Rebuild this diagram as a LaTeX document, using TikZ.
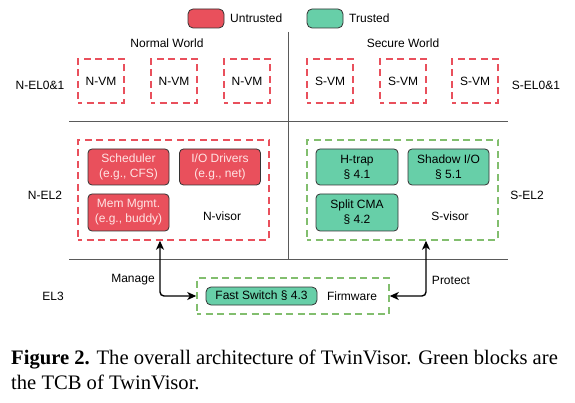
\documentclass[tikz,border=0pt]{standalone}
\usepackage{fontspec}
\setmainfont{Liberation Sans}
\newfontfamily\capfont{Liberation Serif}
\usetikzlibrary{arrows.meta}
\definecolor{untr}{RGB}{233,80,92}
\definecolor{trus}{RGB}{103,207,168}
\definecolor{gdash}{RGB}{130,190,110}
\definecolor{rtext}{RGB}{255,228,228}
\definecolor{linec}{RGB}{90,90,90}
\tikzset{
  lbl/.style={font=\fontsize{12}{15}\selectfont, inner sep=0pt, align=center},
  rdash/.style={draw=untr, dash pattern=on 7pt off 4.5pt, dash phase=3pt, line width=1.5pt, inner sep=0pt, font=\fontsize{12}{15}\selectfont},
  gdashbox/.style={draw=gdash, dash pattern=on 7pt off 4.5pt, dash phase=3pt, line width=1.5pt, inner sep=0pt},
  ubox/.style={draw=black!80, fill=untr, rounded corners=4pt, line width=0.8pt, text=rtext, align=center, inner sep=0pt, font=\fontsize{12}{15}\selectfont},
  tbox/.style={draw=black!80, fill=trus, rounded corners=4pt, line width=0.8pt, text=black, align=center, inner sep=0pt, font=\fontsize{12}{15}\selectfont},
  sepline/.style={draw=linec, line width=1pt},
  conn/.style={{Stealth[length=9pt,width=8pt,inset=2.5pt]}-{Stealth[length=9pt,width=8pt,inset=2.5pt]}, line width=1.4pt, rounded corners=4pt},
}
\begin{document}
\begin{tikzpicture}[x=1pt,y=-1pt]
\useasboundingbox (0,0) rectangle (575,403);
% legend
\node[ubox, minimum width=36pt, minimum height=19pt, rounded corners=5pt] (lu) at (206,18.5) {};
\node[lbl, anchor=west] (lut) at (230,18.5) {Untrusted};
\node[tbox, minimum width=36pt, minimum height=19pt, rounded corners=5pt] (lt) at (325,18.5) {};
\node[lbl, anchor=west] (ltt) at (349,18.5) {Trusted};
% separators
\coordinate (h1l) at (69,122);
\coordinate (h1r) at (508,122);
\coordinate (h2l) at (69,259);
\coordinate (h2r) at (508,259);
\coordinate (vt) at (288,32);
\draw[sepline] (h1l) -- (h1r);
\draw[sepline] (h2l) -- (h2r);
\draw[sepline] (vt) -- (vt |- h2l);
% world titles
\node[lbl] (nw) at (167,43) {Normal World};
\node[lbl] (sw) at (403,43) {Secure World};
% level labels
\node[lbl] (nel01) at (40,85) {N-EL0\&1};
\node[lbl] (sel01) at (536,85) {S-EL0\&1};
\node[lbl] (nel2) at (45,195) {N-EL2};
\node[lbl] (sel2) at (527,195) {S-EL2};
\node[lbl] (el3) at (53,296) {EL3};
% VMs
\node[rdash, minimum width=46pt, minimum height=44pt] (nvm1) at (101,81) {N-VM};
\node[rdash, minimum width=46pt, minimum height=44pt] (nvm2) at (174,81) {N-VM};
\node[rdash, minimum width=46pt, minimum height=44pt] (nvm3) at (247,81) {N-VM};
\node[rdash, minimum width=46pt, minimum height=44pt] (svm1) at (330,81) {S-VM};
\node[rdash, minimum width=46pt, minimum height=44pt] (svm2) at (403,81) {S-VM};
\node[rdash, minimum width=46pt, minimum height=44pt] (svm3) at (475,81) {S-VM};
% visors
\node[rdash, minimum width=191pt, minimum height=100pt] (nvisor) at (173.5,190) {};
\node[gdashbox, minimum width=191pt, minimum height=100pt] (svisor) at (402.5,190) {};
\node[ubox, minimum width=81pt, minimum height=36pt] (sched) at (128.5,167) {Scheduler\\(e.g., CFS)};
\node[ubox, minimum width=81pt, minimum height=36pt] (iodrv) at (220,167) {I/O Drivers\\(e.g., net)};
\node[ubox, minimum width=81pt, minimum height=37pt] (mem) at (128.5,212.5) {Mem Mgmt.\\(e.g., buddy)};
\node[lbl] (nvl) at (222,216) {N-visor};
\node[tbox, minimum width=82pt, minimum height=36pt] (htrap) at (357,167) {H-trap\\\S\ 4.1};
\node[tbox, minimum width=81pt, minimum height=36pt] (shio) at (448.5,167) {Shadow I/O\\\S\ 5.1};
\node[tbox, minimum width=82pt, minimum height=37pt] (scma) at (357,212.5) {Split CMA\\\S\ 4.2};
\node[lbl] (svl) at (450,216) {S-visor};
% firmware
\node[gdashbox, minimum width=192pt, minimum height=36pt] (fw) at (293,296) {};
\node[tbox, minimum width=111pt, minimum height=18pt, rounded corners=5pt] (fs) at (261.5,296) {Fast Switch \S\ 4.3};
\node[lbl] (fwl) at (352,296) {Firmware};
\node[lbl] (mg) at (133,280) {Manage};
\node[lbl] (pr) at (451,280) {Protect};
% connectors
\coordinate (la) at (160,0);
\coordinate (ra) at (426,0);
\draw[conn] (la |- nvisor.south) |- (fw.west);
\draw[conn] (ra |- svisor.south) |- (fw.east);
% caption
\node[anchor=base west, inner sep=0pt] (cap1) at (11,364) {\capfont\fontsize{20.6}{25}\selectfont\textbf{Figure 2.} The overall architecture of TwinVisor. Green blocks are};
\node[anchor=base west, inner sep=0pt] (cap2) at (11,389) {\capfont\fontsize{20.6}{25}\selectfont the TCB of TwinVisor.};
\end{tikzpicture}
\end{document}
